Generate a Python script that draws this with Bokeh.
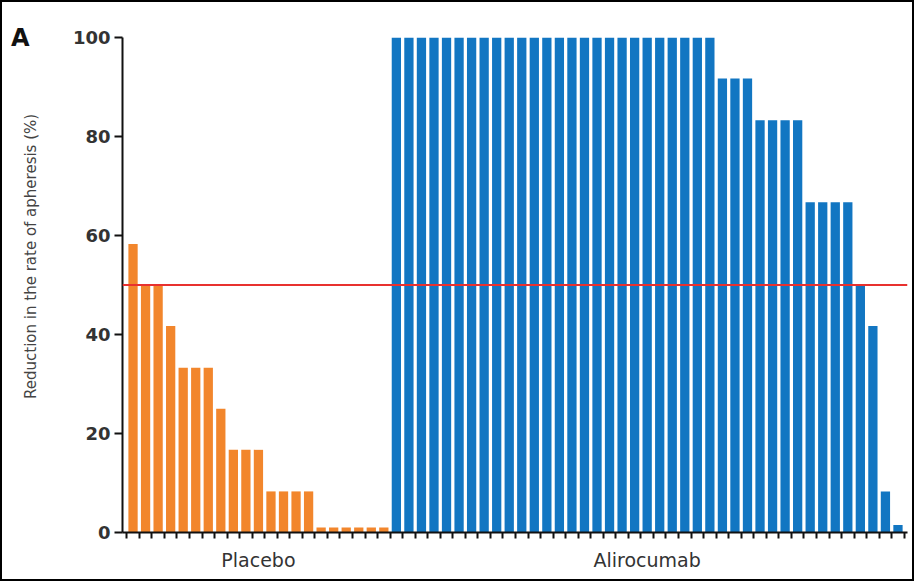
from bokeh.plotting import figure
from bokeh.models import Range1d, FixedTicker, Span, ColumnDataSource, LinearAxis
from bokeh.embed import file_html
from bokeh.resources import INLINE

# Per-patient reduction in apheresis rate (%), sorted within each arm
placebo = [58.3, 50, 50, 41.7, 33.3, 33.3, 33.3, 25, 16.7, 16.7, 16.7,
           8.3, 8.3, 8.3, 8.3, 1, 1, 1, 1, 1, 1]
alirocumab = [100, 100, 100, 100, 100, 100, 100, 100, 100, 100, 100, 100, 100,
              100, 100, 100, 100, 100, 100, 100, 100, 100, 100, 100, 100, 100,
              91.7, 91.7, 91.7, 83.3, 83.3, 83.3, 83.3,
              66.7, 66.7, 66.7, 66.7, 50, 41.7, 8.3, 1.5]
groups = ["Placebo", "Alirocumab"]
y_ticks = [0, 20, 40, 60, 80, 100]
threshold = 50
panel_letter = "A"

ORANGE = "#f2862c"
BLUE = "#1276c2"
FONT = "DejaVu Sans"

n_pl = len(placebo)
n_al = len(alirocumab)
n_all = n_pl + n_al

src_pl = ColumnDataSource(dict(x=list(range(n_pl)), top=placebo))
src_al = ColumnDataSource(dict(x=list(range(n_pl, n_all)), top=alirocumab))

p = figure(width=914, height=581,
           x_range=Range1d(-0.84, n_all - 0.24), y_range=Range1d(0, 100),
           output_backend="svg", toolbar_location=None,
           min_border_left=120, min_border_right=9,
           min_border_top=35, min_border_bottom=51)
p.styles = {"border": "2px solid black", "box-sizing": "border-box"}
p.outline_line_color = None
p.grid.visible = False
p.background_fill_color = "white"
p.border_fill_color = "white"

p.vbar(x="x", top="top", width=0.74, bottom=0, source=src_pl,
       fill_color=ORANGE, line_color=None)
p.vbar(x="x", top="top", width=0.74, bottom=0, source=src_al,
       fill_color=BLUE, line_color=None)

p.add_layout(Span(location=threshold, dimension="width",
                  line_color="#e8312f", line_width=2))

# y axis
ya = p.yaxis[0]
ya.ticker = FixedTicker(ticks=y_ticks)
ya.axis_line_width = 2
ya.axis_line_color = "#111111"
ya.major_tick_line_width = 2
ya.major_tick_line_color = "#111111"
ya.major_tick_out = 8
ya.major_tick_in = 0
ya.minor_tick_line_color = None
ya.major_label_standoff = 4
ya.major_label_text_font = FONT
ya.major_label_text_font_style = "bold"
ya.major_label_text_font_size = "18px"
ya.major_label_text_color = "#333333"
ya.axis_label = "\u00a0" * 12 + "Reduction in the rate of apheresis (%)"
ya.axis_label_text_font = FONT
ya.axis_label_text_font_style = "normal"
ya.axis_label_text_font_size = "15px"
ya.axis_label_text_color = "#444444"
ya.axis_label_standoff = 30

# panel letter, set in the outer left margin level with the top of the scale
la = LinearAxis(ticker=FixedTicker(ticks=[y_ticks[-1]]),
                major_label_overrides={y_ticks[-1]: panel_letter})
la.axis_line_color = None
la.major_tick_line_color = None
la.minor_tick_line_color = None
la.major_tick_out = 0
la.major_tick_in = 0
la.major_label_standoff = -11
la.major_label_text_font = FONT
la.major_label_text_font_style = "bold"
la.major_label_text_font_size = "24px"
la.major_label_text_color = "#111111"
p.add_layout(la, "left")

# x axis: group names at the arm centres, a small tick between patients
centers = [(n_pl - 1) / 2, n_pl + (n_al - 1) / 2]
xa = p.xaxis[0]
xa.ticker = FixedTicker(ticks=centers,
                        minor_ticks=[i - 0.5 for i in range(n_all + 1)])
xa.major_label_overrides = {c: g for c, g in zip(centers, groups)}
xa.axis_line_width = 2
xa.axis_line_color = "#111111"
xa.major_tick_line_color = None
xa.major_tick_out = 0
xa.major_tick_in = 0
xa.minor_tick_line_width = 2
xa.minor_tick_line_color = "#111111"
xa.minor_tick_out = 6
xa.minor_tick_in = 0
xa.major_label_standoff = 10
xa.major_label_text_font = FONT
xa.major_label_text_font_size = "19px"
xa.major_label_text_color = "#333333"

open("out.html", "w").write(file_html(p, INLINE))
